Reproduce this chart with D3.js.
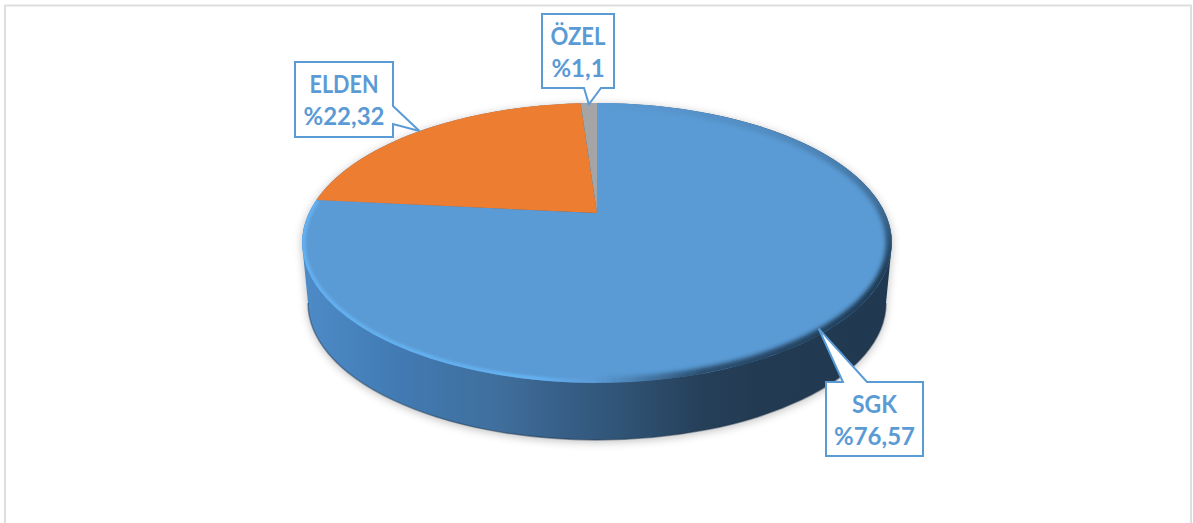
<!DOCTYPE html>
<html>
<head>
<meta charset="utf-8">
<script src="https://cdn.jsdelivr.net/npm/d3@7"></script>
<style>
	html, body { margin: 0; padding: 0; background: #fff; }
	svg { display: block; }
	text { font-family: Lato, "Open Sans", sans-serif; font-weight: 700; font-size: 24px; fill: #5b9bd5; text-anchor: middle; }
</style>
</head>
<body>
<script>
const categories = ['SGK', 'ELDEN', 'ÖZEL'];
const shares = [76.57, 22.32, 1.1];
const shareLabels = ['%76,57', '%22,32', '%1,1'];
const colors = ['#5b9bd5', '#ed7d31', '#a5a5a5'];

// callout boxes: left, top, width, height, pointer base x1, y1, x2, y2, tip nudge x, name width
const boxes = [
	[826, 382, 97, 74, 843, 382, 867, 382, -4, 45],
	[295, 62, 98, 75, 393, 106, 393, 124, -6, 69],
	[542, 14, 72, 74, 584, 88, 601, 88, 0, 55]
];

const svgSize = {width: 1193, height: 523};

// tilted disc, the apex sits above the middle of the rim ellipse (perspective)
const apex = {x: 597, y: 213};
const persp = {k: 288, a: 88, c: -0.214};

function project(angle, r) {
	const u = r * Math.sin(angle);
	const v = -r * Math.cos(angle);
	const w = 1 + persp.c * v;
	return [apex.x + persp.k * u / w, (persp.a * v + apex.y) / w];
}

const svg = d3.select('body').append('svg')
	.attr('width', svgSize.width)
	.attr('height', svgSize.height);

const defs = svg.append('defs');

function gradient(id, x1, y1, x2, y2, stops) {
	const g = defs.append('linearGradient')
		.attr('id', id)
		.attr('gradientUnits', 'userSpaceOnUse')
		.attr('x1', x1).attr('x2', x2)
		.attr('y1', y1).attr('y2', y2);
	stops.forEach((s) => {
		g.append('stop')
			.attr('offset', s[0])
			.attr('stop-color', s[1])
			.attr('stop-opacity', s[2] === undefined ? 1 : s[2]);
	});
}

gradient('wall', 302, 0, 892, 0, [[0, '#4d8bc8'], [0.17, '#417aB2'], [0.34, '#3f6e9b'], [0.44, '#375f88'], [0.54, '#305476'], [0.68, '#263f59'], [0.77, '#233b52'], [1, '#203950']]);
gradient('glow', 302, 0, 892, 0, [[0, '#64b2f2', 0.9], [0.3, '#64b2f2', 0.85], [0.39, '#64b2f2', 1], [0.5, '#64b2f2', 0]]);
gradient('shade', 302, 0, 892, 0, [[0.5, '#1f3a54', 0], [0.68, '#1f3a54', 0.8], [1, '#1f3a54', 1]]);
gradient('fadeUp', 0, 115, 0, 270, [[0, '#fff', 0.12], [0.55, '#fff', 0.45], [1, '#fff', 1]]);

defs.append('filter').attr('id', 'soft')
	.attr('x', '-10%').attr('y', '-10%').attr('width', '120%').attr('height', '120%')
	.append('feGaussianBlur').attr('stdDeviation', 5);
defs.append('filter').attr('id', 'edge')
	.attr('x', '-5%').attr('y', '-5%').attr('width', '110%').attr('height', '110%')
	.append('feGaussianBlur').attr('stdDeviation', 1.2);
defs.append('filter').attr('id', 'edgeWide')
	.attr('x', '-5%').attr('y', '-5%').attr('width', '110%').attr('height', '110%')
	.append('feGaussianBlur').attr('stdDeviation', 2);

defs.append('mask').attr('id', 'fadeMask')
	.attr('maskUnits', 'userSpaceOnUse')
	.attr('x', 0).attr('y', 0).attr('width', svgSize.width).attr('height', svgSize.height)
	.append('rect')
	.attr('width', svgSize.width).attr('height', svgSize.height)
	.attr('fill', 'url(#fadeUp)');

// frame of the pasted picture
svg.append('path')
	.attr('d', `M5,523V5.5H1191V523`)
	.attr('fill', 'none')
	.attr('stroke', '#dedede')
	.attr('stroke-width', 2);

const pie = d3.pie().sort(null)(shares);
const angleSteps = d3.range(0, 1.0001, 1 / 90);
const line = d3.line();

function rimPoints(a0, a1, r) {
	const sweep = d3.scaleLinear().domain([0, 1]).range([a0, a1]);
	return angleSteps.map((t) => project(sweep(t), r));
}

// side wall: rim ellipse swept down to a slightly smaller bottom ellipse
const rimCx = apex.x, rimCy = 243, rimRx = 295, rimRy = 140;
const baseCy = 303, baseRx = 289, baseRy = 137;
const baseArc = `A${baseRx},${baseRy} 0 0 0 ${rimCx + baseRx},${baseCy}`;
const wallPath = `M${rimCx - rimRx},${rimCy}L${rimCx - baseRx},${baseCy}`
	+ baseArc
	+ `L${rimCx + rimRx},${rimCy}`
	+ `A${rimRx},${rimRy} 0 0 0 ${rimCx - rimRx},${rimCy}Z`;

svg.append('path').attr('d', wallPath)
	.attr('fill', '#000').attr('opacity', 0.26)
	.attr('transform', 'translate(0,2)')
	.attr('filter', 'url(#soft)');

svg.append('path').attr('d', wallPath).attr('fill', 'url(#wall)');

// darker lower lip of the wall
svg.append('path')
	.attr('d', `M${rimCx - baseRx},${baseCy}` + baseArc)
	.attr('fill', 'none')
	.attr('stroke', '#1b3148')
	.attr('stroke-opacity', 0.45)
	.attr('stroke-width', 1.5);

// slices
svg.append('g')
	.selectAll('path')
	.data(pie)
	.enter()
	.append('path')
	.attr('fill', (d, i) => colors[i])
	.attr('d', (d) => line([[apex.x, apex.y]].concat(rimPoints(d.startAngle, d.endAngle, 1))) + 'Z');

// bevel along the rim of the big slice, kept inside the disc
defs.append('clipPath').attr('id', 'disc')
	.append('path').attr('d', line(rimPoints(0, 2 * Math.PI, 1)) + 'Z');

const bevel = svg.append('g').attr('clip-path', 'url(#disc)');

bevel.append('g').attr('mask', 'url(#fadeMask)')
	.append('path')
	.attr('d', line(rimPoints(0, Math.PI, 1)))
	.attr('fill', 'none')
	.attr('stroke', 'url(#shade)')
	.attr('stroke-width', 12)
	.attr('filter', 'url(#edgeWide)');

bevel.append('path')
	.attr('d', line(rimPoints(Math.PI * 0.9, pie[0].endAngle, 1)))
	.attr('fill', 'none')
	.attr('stroke', 'url(#glow)')
	.attr('stroke-width', 7)
	.attr('filter', 'url(#edge)');

// callouts, the pointer tip follows the middle of each slice
const callouts = svg.append('g')
	.selectAll('g')
	.data(pie)
	.enter()
	.append('g');

callouts.append('path')
	.attr('d', (d, i) => {
		const b = boxes[i];
		const mid = project((d.startAngle + d.endAngle) / 2, 0.985);
		const tip = [mid[0] + b[8], mid[1]];
		const corners = [[b[0], b[1]], [b[0] + b[2], b[1]], [b[0] + b[2], b[1] + b[3]], [b[0], b[1] + b[3]]];
		const pointer = [[b[4], b[5]], tip, [b[6], b[7]]];
		if (i === 0) return line([corners[0], pointer[0], pointer[1], pointer[2], corners[1], corners[2], corners[3]]) + 'Z';
		if (i === 1) return line([corners[0], corners[1], pointer[0], pointer[1], pointer[2], corners[2], corners[3]]) + 'Z';
		return line([corners[0], corners[1], corners[2], pointer[2], pointer[1], pointer[0], corners[3]]) + 'Z';
	})
	.attr('fill', '#fff')
	.attr('stroke', '#5b9bd5')
	.attr('stroke-width', 2);

callouts.append('text')
	.attr('x', (d, i) => boxes[i][0] + boxes[i][2] / 2)
	.attr('y', (d, i) => boxes[i][1] + 30.5)
	.attr('textLength', (d, i) => boxes[i][9])
	.attr('lengthAdjust', 'spacingAndGlyphs')
	.text((d, i) => categories[i]);

callouts.append('text')
	.attr('x', (d, i) => boxes[i][0] + boxes[i][2] / 2)
	.attr('y', (d, i) => boxes[i][1] + 63)
	.text((d, i) => shareLabels[i]);
</script>
</body>
</html>
